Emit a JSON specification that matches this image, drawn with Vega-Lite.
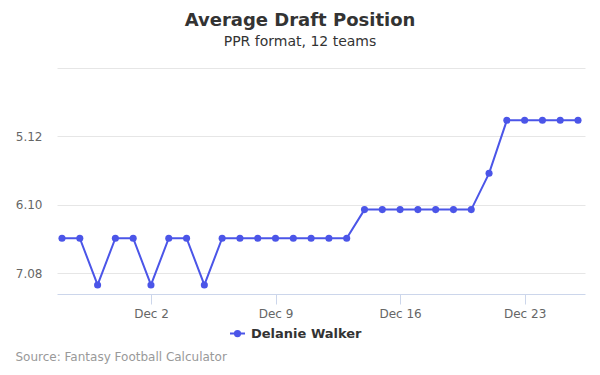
{
  "$schema": "https://vega.github.io/schema/vega-lite/v6.json",
  "width": 528,
  "height": 226,
  "autosize": {"type": "none"},
  "padding": {"left": 57, "top": 68, "right": 15, "bottom": 81},
  "background": "white",
  "config": {
    "font": "DejaVu Sans",
    "view": {"stroke": null}
  },
  "title": {
    "text": "Average Draft Position",
    "subtitle": "PPR format, 12 teams",
    "anchor": "middle",
    "frame": "group",
    "dx": -21,
    "offset": 19,
    "fontSize": 18,
    "fontWeight": "bold",
    "color": "#333333",
    "subtitleFontSize": 14,
    "subtitleColor": "#333333",
    "subtitlePadding": 5
  },
  "data": {
    "values": [
      {"date": "2018-11-27", "adp": 6.58, "player": "Delanie Walker"},
      {"date": "2018-11-28", "adp": 6.58, "player": "Delanie Walker"},
      {"date": "2018-11-29", "adp": 7.25, "player": "Delanie Walker"},
      {"date": "2018-11-30", "adp": 6.58, "player": "Delanie Walker"},
      {"date": "2018-12-01", "adp": 6.58, "player": "Delanie Walker"},
      {"date": "2018-12-02", "adp": 7.25, "player": "Delanie Walker"},
      {"date": "2018-12-03", "adp": 6.58, "player": "Delanie Walker"},
      {"date": "2018-12-04", "adp": 6.58, "player": "Delanie Walker"},
      {"date": "2018-12-05", "adp": 7.25, "player": "Delanie Walker"},
      {"date": "2018-12-06", "adp": 6.58, "player": "Delanie Walker"},
      {"date": "2018-12-07", "adp": 6.58, "player": "Delanie Walker"},
      {"date": "2018-12-08", "adp": 6.58, "player": "Delanie Walker"},
      {"date": "2018-12-09", "adp": 6.58, "player": "Delanie Walker"},
      {"date": "2018-12-10", "adp": 6.58, "player": "Delanie Walker"},
      {"date": "2018-12-11", "adp": 6.58, "player": "Delanie Walker"},
      {"date": "2018-12-12", "adp": 6.58, "player": "Delanie Walker"},
      {"date": "2018-12-13", "adp": 6.58, "player": "Delanie Walker"},
      {"date": "2018-12-14", "adp": 6.17, "player": "Delanie Walker"},
      {"date": "2018-12-15", "adp": 6.17, "player": "Delanie Walker"},
      {"date": "2018-12-16", "adp": 6.17, "player": "Delanie Walker"},
      {"date": "2018-12-17", "adp": 6.17, "player": "Delanie Walker"},
      {"date": "2018-12-18", "adp": 6.17, "player": "Delanie Walker"},
      {"date": "2018-12-19", "adp": 6.17, "player": "Delanie Walker"},
      {"date": "2018-12-20", "adp": 6.17, "player": "Delanie Walker"},
      {"date": "2018-12-21", "adp": 5.65, "player": "Delanie Walker"},
      {"date": "2018-12-22", "adp": 4.89, "player": "Delanie Walker"},
      {"date": "2018-12-23", "adp": 4.89, "player": "Delanie Walker"},
      {"date": "2018-12-24", "adp": 4.89, "player": "Delanie Walker"},
      {"date": "2018-12-25", "adp": 4.89, "player": "Delanie Walker"},
      {"date": "2018-12-26", "adp": 4.89, "player": "Delanie Walker"}
    ]
  },
  "mark": {"type": "line", "strokeWidth": 2, "point": {"size": 50, "filled": true, "opacity": 1}},
  "encoding": {
    "x": {
      "field": "date",
      "type": "temporal",
      "scale": {
        "type": "utc",
        "domain": [
          {"year": 2018, "month": 11, "date": 26, "hours": 17, "minutes": 15, "utc": true},
          {"year": 2018, "month": 12, "date": 26, "hours": 9, "minutes": 25, "utc": true}
        ]
      },
      "axis": {
        "values": [
          {"year": 2018, "month": 12, "date": 2, "utc": true},
          {"year": 2018, "month": 12, "date": 9, "utc": true},
          {"year": 2018, "month": 12, "date": 16, "utc": true},
          {"year": 2018, "month": 12, "date": 23, "utc": true}
        ],
        "format": "%b %-d",
        "grid": false,
        "domainColor": "#ccd6eb",
        "tickColor": "#ccd6eb",
        "tickSize": 10,
        "labelFontSize": 12,
        "labelColor": "#666666",
        "labelPadding": 4,
        "title": "Source: Fantasy Football Calculator",
        "titleX": -42,
        "titleY": 62,
        "titleAlign": "left",
        "titleAnchor": "start",
        "titleBaseline": "middle",
        "titleFontWeight": "normal",
        "titleFontSize": 12,
        "titleColor": "#999999"
      }
    },
    "y": {
      "field": "adp",
      "type": "quantitative",
      "scale": {"domain": [4.14, 7.38], "reverse": true, "zero": false, "nice": false},
      "axis": {
        "values": [4.14, 5.12, 6.10, 7.08],
        "labelExpr": "datum.value < 4.5 ? '' : format(datum.value, '.2f')",
        "domain": false,
        "ticks": false,
        "gridColor": "#e6e6e6",
        "labelFontSize": 12,
        "labelColor": "#666666",
        "labelPadding": 15,
        "title": null
      }
    },
    "color": {
      "field": "player",
      "type": "nominal",
      "scale": {"range": ["#4b55e8"]},
      "legend": {
        "title": null,
        "orient": "none",
        "legendX": 172,
        "legendY": 257,
        "symbolSize": 225,
        "labelFontSize": 13,
        "labelFontWeight": "bold",
        "labelColor": "#333333",
        "labelOffset": 5,
        "encode": {
          "symbols": {
            "update": {
              "shape": {"value": "M-1,0H1M-0.35,0A0.35,0.35 0 1,1 0.35,0A0.35,0.35 0 1,1 -0.35,0Z"},
              "fill": {"value": "#4b55e8"},
              "stroke": {"value": "#4b55e8"},
              "strokeWidth": {"value": 2},
              "opacity": {"value": 1}
            }
          }
        }
      }
    }
  }
}
